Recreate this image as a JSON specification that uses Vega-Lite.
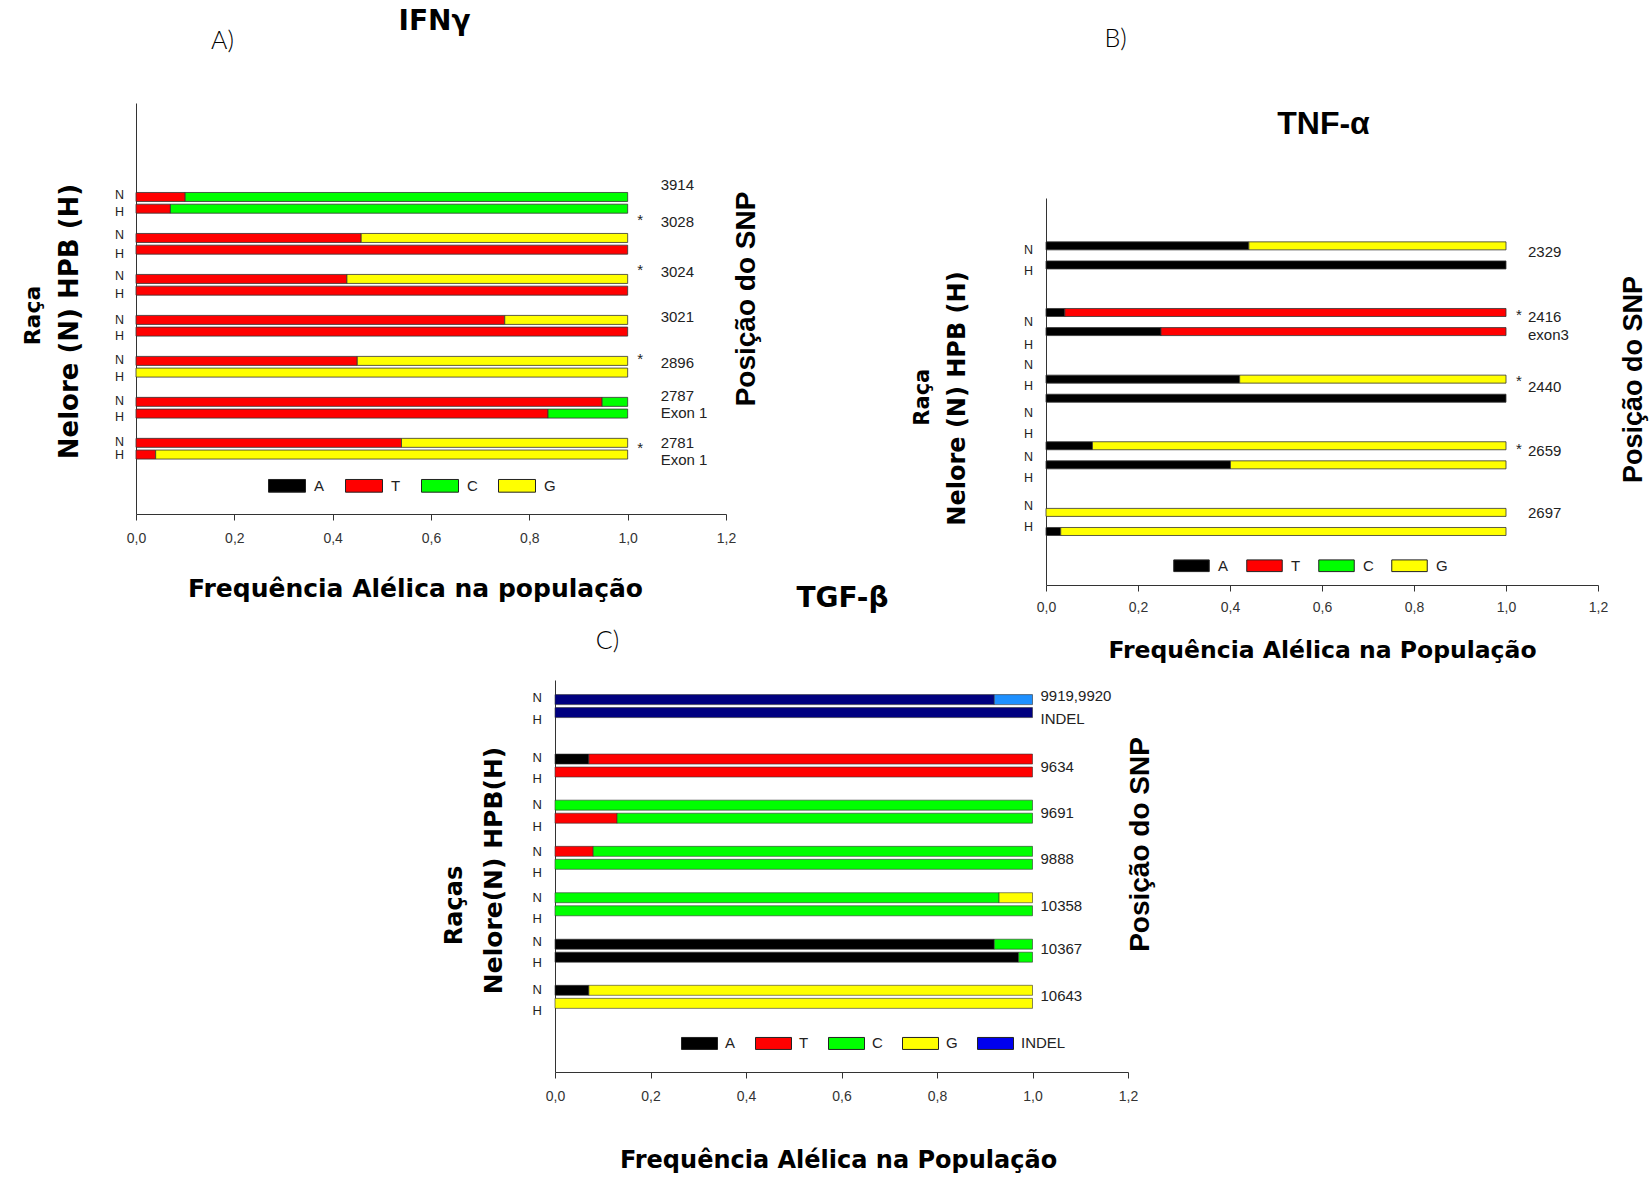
{
  "$schema": "https://vega.github.io/schema/vega-lite/v6.json",
  "background": "white",
  "padding": {"left": 21, "top": 7, "right": 5, "bottom": 5},
  "bounds": "flush",
  "spacing": 577,
  "resolve": {"scale": {"color": "independent"}, "legend": {"color": "independent"}},
  "config": {
    "view": {"stroke": null},
    "axis": {"domainColor": "#333", "tickColor": "#333", "labelFont": "Liberation Sans", "labelFontSize": 14, "labelColor": "#333", "titleColor": "#000", "grid": false}
  },
  "datasets": {
    "segA": [
      {"snp": "3914", "breed": "N", "row": 7.6, "allele": "T", "k": 1, "f": 0.10},
      {"snp": "3914", "breed": "N", "row": 7.6, "allele": "C", "k": 2, "f": 0.90},
      {"snp": "3914", "breed": "H", "row": 8.6, "allele": "T", "k": 1, "f": 0.07},
      {"snp": "3914", "breed": "H", "row": 8.6, "allele": "C", "k": 2, "f": 0.93},
      {"snp": "3028", "breed": "N", "row": 11.1, "allele": "T", "k": 1, "f": 0.458},
      {"snp": "3028", "breed": "N", "row": 11.1, "allele": "G", "k": 3, "f": 0.542},
      {"snp": "3028", "breed": "H", "row": 12.1, "allele": "T", "k": 1, "f": 1.0},
      {"snp": "3024", "breed": "N", "row": 14.6, "allele": "T", "k": 1, "f": 0.429},
      {"snp": "3024", "breed": "N", "row": 14.6, "allele": "G", "k": 3, "f": 0.571},
      {"snp": "3024", "breed": "H", "row": 15.6, "allele": "T", "k": 1, "f": 1.0},
      {"snp": "3021", "breed": "N", "row": 18.1, "allele": "T", "k": 1, "f": 0.75},
      {"snp": "3021", "breed": "N", "row": 18.1, "allele": "G", "k": 3, "f": 0.25},
      {"snp": "3021", "breed": "H", "row": 19.1, "allele": "T", "k": 1, "f": 1.0},
      {"snp": "2896", "breed": "N", "row": 21.6, "allele": "T", "k": 1, "f": 0.45},
      {"snp": "2896", "breed": "N", "row": 21.6, "allele": "G", "k": 3, "f": 0.55},
      {"snp": "2896", "breed": "H", "row": 22.6, "allele": "G", "k": 3, "f": 1.0},
      {"snp": "2787", "breed": "N", "row": 25.1, "allele": "T", "k": 1, "f": 0.948},
      {"snp": "2787", "breed": "N", "row": 25.1, "allele": "C", "k": 2, "f": 0.052},
      {"snp": "2787", "breed": "H", "row": 26.1, "allele": "T", "k": 1, "f": 0.838},
      {"snp": "2787", "breed": "H", "row": 26.1, "allele": "C", "k": 2, "f": 0.162},
      {"snp": "2781", "breed": "N", "row": 28.6, "allele": "T", "k": 1, "f": 0.54},
      {"snp": "2781", "breed": "N", "row": 28.6, "allele": "G", "k": 3, "f": 0.46},
      {"snp": "2781", "breed": "H", "row": 29.6, "allele": "T", "k": 1, "f": 0.04},
      {"snp": "2781", "breed": "H", "row": 29.6, "allele": "G", "k": 3, "f": 0.96}
    ],
    "nhA": [
      {"lab": "N", "row": 7.39}, {"lab": "H", "row": 8.92},
      {"lab": "N", "row": 10.83}, {"lab": "H", "row": 12.44},
      {"lab": "N", "row": 14.31}, {"lab": "H", "row": 15.92},
      {"lab": "N", "row": 18.08}, {"lab": "H", "row": 19.47},
      {"lab": "N", "row": 21.56}, {"lab": "H", "row": 22.94},
      {"lab": "N", "row": 25.03}, {"lab": "H", "row": 26.42},
      {"lab": "N", "row": 28.5}, {"lab": "H", "row": 29.64}
    ],
    "snpA": [
      {"t": "3914", "row": 6.6}, {"t": "3028", "row": 9.73}, {"t": "3024", "row": 14.0},
      {"t": "3021", "row": 17.89}, {"t": "2896", "row": 21.75}, {"t": "2787", "row": 24.56},
      {"t": "Exon 1", "row": 26.08}, {"t": "2781", "row": 28.64}, {"t": "Exon 1", "row": 30.03}
    ],
    "starA": [{"t": "*", "row": 9.56}, {"t": "*", "row": 13.86}, {"t": "*", "row": 21.42}, {"t": "*", "row": 29.0}],
    "segB": [
      {"snp": "2329", "breed": "N", "row": 4.4, "allele": "A", "k": 0, "f": 0.441},
      {"snp": "2329", "breed": "N", "row": 4.4, "allele": "G", "k": 3, "f": 0.559},
      {"snp": "2329", "breed": "H", "row": 6.36, "allele": "A", "k": 0, "f": 1.0},
      {"snp": "2416", "breed": "N", "row": 11.24, "allele": "A", "k": 0, "f": 0.041},
      {"snp": "2416", "breed": "N", "row": 11.24, "allele": "T", "k": 1, "f": 0.959},
      {"snp": "2416", "breed": "H", "row": 13.2, "allele": "A", "k": 0, "f": 0.25},
      {"snp": "2416", "breed": "H", "row": 13.2, "allele": "T", "k": 1, "f": 0.75},
      {"snp": "2440", "breed": "N", "row": 18.08, "allele": "A", "k": 0, "f": 0.421},
      {"snp": "2440", "breed": "N", "row": 18.08, "allele": "G", "k": 3, "f": 0.579},
      {"snp": "2440", "breed": "H", "row": 20.04, "allele": "A", "k": 0, "f": 1.0},
      {"snp": "2659", "breed": "N", "row": 24.92, "allele": "A", "k": 0, "f": 0.101},
      {"snp": "2659", "breed": "N", "row": 24.92, "allele": "G", "k": 3, "f": 0.899},
      {"snp": "2659", "breed": "H", "row": 26.88, "allele": "A", "k": 0, "f": 0.401},
      {"snp": "2659", "breed": "H", "row": 26.88, "allele": "G", "k": 3, "f": 0.599},
      {"snp": "2697", "breed": "N", "row": 31.76, "allele": "G", "k": 3, "f": 1.0},
      {"snp": "2697", "breed": "H", "row": 33.72, "allele": "A", "k": 0, "f": 0.032},
      {"snp": "2697", "breed": "H", "row": 33.72, "allele": "G", "k": 3, "f": 0.968}
    ],
    "nhB": [
      {"lab": "N", "row": 4.8}, {"lab": "H", "row": 7.03},
      {"lab": "N", "row": 12.2}, {"lab": "H", "row": 14.53},
      {"lab": "N", "row": 16.63}, {"lab": "H", "row": 18.77},
      {"lab": "N", "row": 21.53}, {"lab": "H", "row": 23.7},
      {"lab": "N", "row": 26.03}, {"lab": "H", "row": 28.27},
      {"lab": "N", "row": 31.1}, {"lab": "H", "row": 33.27}
    ],
    "snpB": [
      {"t": "2329", "row": 5.0}, {"t": "2416", "row": 11.7}, {"t": "exon3", "row": 13.6},
      {"t": "2440", "row": 18.87}, {"t": "2659", "row": 25.5}, {"t": "2697", "row": 31.87}
    ],
    "starB": [{"t": "*", "row": 11.5}, {"t": "*", "row": 18.3}, {"t": "*", "row": 25.3}],
    "segC": [
      {"snp": "9919,9920", "breed": "N", "row": 1.5, "allele": "del", "k": 0, "f": 0.92},
      {"snp": "9919,9920", "breed": "N", "row": 1.5, "allele": "ins", "k": 1, "f": 0.08},
      {"snp": "9919,9920", "breed": "H", "row": 2.83, "allele": "del", "k": 0, "f": 1.0},
      {"snp": "9634", "breed": "N", "row": 7.6, "allele": "A", "k": 0, "f": 0.071},
      {"snp": "9634", "breed": "N", "row": 7.6, "allele": "T", "k": 1, "f": 0.929},
      {"snp": "9634", "breed": "H", "row": 8.93, "allele": "T", "k": 1, "f": 1.0},
      {"snp": "9691", "breed": "N", "row": 12.33, "allele": "C", "k": 2, "f": 1.0},
      {"snp": "9691", "breed": "H", "row": 13.67, "allele": "T", "k": 1, "f": 0.13},
      {"snp": "9691", "breed": "H", "row": 13.67, "allele": "C", "k": 2, "f": 0.87},
      {"snp": "9888", "breed": "N", "row": 17.07, "allele": "T", "k": 1, "f": 0.08},
      {"snp": "9888", "breed": "N", "row": 17.07, "allele": "C", "k": 2, "f": 0.92},
      {"snp": "9888", "breed": "H", "row": 18.4, "allele": "C", "k": 2, "f": 1.0},
      {"snp": "10358", "breed": "N", "row": 21.83, "allele": "C", "k": 2, "f": 0.93},
      {"snp": "10358", "breed": "N", "row": 21.83, "allele": "G", "k": 3, "f": 0.07},
      {"snp": "10358", "breed": "H", "row": 23.17, "allele": "C", "k": 2, "f": 1.0},
      {"snp": "10367", "breed": "N", "row": 26.6, "allele": "A", "k": 0, "f": 0.92},
      {"snp": "10367", "breed": "N", "row": 26.6, "allele": "C", "k": 2, "f": 0.08},
      {"snp": "10367", "breed": "H", "row": 27.93, "allele": "A", "k": 0, "f": 0.971},
      {"snp": "10367", "breed": "H", "row": 27.93, "allele": "C", "k": 2, "f": 0.029},
      {"snp": "10643", "breed": "N", "row": 31.33, "allele": "A", "k": 0, "f": 0.071},
      {"snp": "10643", "breed": "N", "row": 31.33, "allele": "G", "k": 3, "f": 0.929},
      {"snp": "10643", "breed": "H", "row": 32.67, "allele": "G", "k": 3, "f": 1.0}
    ],
    "nhC": [
      {"lab": "N", "row": 1.33}, {"lab": "H", "row": 3.6},
      {"lab": "N", "row": 7.5}, {"lab": "H", "row": 9.67},
      {"lab": "N", "row": 12.33}, {"lab": "H", "row": 14.6},
      {"lab": "N", "row": 17.1}, {"lab": "H", "row": 19.33},
      {"lab": "N", "row": 21.83}, {"lab": "H", "row": 24.0},
      {"lab": "N", "row": 26.33}, {"lab": "H", "row": 28.5},
      {"lab": "N", "row": 31.27}, {"lab": "H", "row": 33.5}
    ],
    "snpC": [
      {"t": "9919,9920", "row": 1.1}, {"t": "INDEL", "row": 3.5}, {"t": "9634", "row": 8.4},
      {"t": "9691", "row": 13.17}, {"t": "9888", "row": 17.9}, {"t": "10358", "row": 22.67},
      {"t": "10367", "row": 27.1}, {"t": "10643", "row": 31.93}
    ]
  },
  "vconcat": [
    {
      "bounds": "flush",
      "spacing": 320,
      "resolve": {"scale": {"color": "independent"}, "legend": {"color": "independent"}},
      "hconcat": [
        {
          "width": 590,
          "height": 411,
          "resolve": {"axis": {"x": "independent", "y": "independent"}},
          "layer": [
            {
              "data": {"name": "segA"},
              "mark": {"type": "bar", "orient": "horizontal", "size": 9, "stroke": "#333", "strokeWidth": 0.8},
              "encoding": {
                "y": {"field": "row", "type": "quantitative", "scale": {"domain": [0, 34.25], "reverse": true, "nice": false, "zero": false},
                  "axis": {"orient": "left", "title": "Nelore (N) HPB (H)", "labels": false, "ticks": false, "domain": true, "titleX": -66.7, "titleY": 218, "titleAngle": 270, "titleAlign": "center", "titleBaseline": "middle", "titleFont": "DejaVu Sans", "titleFontWeight": "bold", "titleFontSize": 26}},
                "x": {"field": "f", "type": "quantitative", "stack": "zero", "scale": {"domain": [0, 1.2], "nice": false, "zero": false},
                  "axis": {"orient": "bottom", "values": [0, 0.2, 0.4, 0.6, 0.8, 1, 1.2], "labelExpr": "replace(format(datum.value, '.1f'), '.', ',')", "labelFlush": false, "labelOverlap": false, "tickSize": 6, "labelPadding": 11, "title": "Frequência Alélica na população", "titleX": 279, "titleY": 74, "titleAlign": "center", "titleBaseline": "middle", "titleFont": "DejaVu Sans", "titleFontSize": 25, "titleFontWeight": "bold"}},
                "color": {"field": "allele", "type": "nominal",
                  "scale": {"domain": ["A", "T", "C", "G"], "range": ["#000000", "#ff0000", "#00ff00", "#ffff00"]},
                  "legend": {"orient": "none", "legendX": 132, "legendY": 363.5, "direction": "horizontal", "title": null, "values": ["A", "T", "C", "G"], "symbolType": "M-1,-0.343H1V0.343H-1Z", "symbolSize": 1369, "symbolStrokeColor": "#222", "symbolStrokeWidth": 1, "labelFont": "Liberation Sans", "labelFontSize": 15, "labelColor": "#222", "labelOffset": 8, "columnPadding": 18, "padding": 0}},
                "order": {"field": "k", "type": "quantitative"}
              }
            },
            {
              "data": {"name": "nhA"},
              "mark": {"type": "text", "align": "right", "baseline": "middle", "dx": -12, "font": "Liberation Sans", "fontSize": 12.5, "color": "#222"},
              "encoding": {
                "y": {"field": "row", "type": "quantitative", "scale": {"domain": [0, 34.25], "reverse": true, "nice": false, "zero": false},
                  "axis": {"orient": "left", "title": "Raça", "labels": false, "ticks": false, "domain": false, "titleX": -103.3, "titleY": 212, "titleAngle": 270, "titleAlign": "center", "titleBaseline": "middle", "titleFont": "DejaVu Sans", "titleFontWeight": "bold", "titleFontSize": 22}},
                "x": {"datum": 0, "type": "quantitative", "scale": {"domain": [0, 1.2], "nice": false, "zero": false},
                  "axis": {"orient": "top", "title": "A)", "labels": false, "ticks": false, "domain": false, "titleX": 86, "titleY": -63, "titleAlign": "center", "titleBaseline": "middle", "titleFont": "Lato", "titleFontWeight": 300, "titleFontSize": 25}},
                "text": {"field": "lab", "type": "nominal"}
              }
            },
            {
              "data": {"name": "snpA"},
              "mark": {"type": "text", "align": "left", "baseline": "middle", "dx": 33, "font": "Liberation Sans", "fontSize": 15, "color": "#222"},
              "encoding": {
                "y": {"field": "row", "type": "quantitative", "scale": {"domain": [0, 34.25], "reverse": true, "nice": false, "zero": false},
                  "axis": {"orient": "right", "title": "Posição do SNP", "labels": false, "ticks": false, "domain": false, "titleX": 20.5, "titleY": 195.5, "titleAngle": 270, "titleAlign": "center", "titleBaseline": "middle", "titleFont": "Liberation Sans", "titleFontWeight": "bold", "titleFontSize": 28}},
                "x": {"datum": 1, "type": "quantitative", "scale": {"domain": [0, 1.2], "nice": false, "zero": false},
                  "axis": {"orient": "top", "title": "IFNγ", "labels": false, "ticks": false, "domain": false, "titleX": 298, "titleY": -82, "titleAlign": "center", "titleBaseline": "middle", "titleFont": "DejaVu Sans", "titleFontWeight": "bold", "titleFontSize": 28}},
                "text": {"field": "t", "type": "nominal"}
              }
            },
            {
              "data": {"name": "starA"},
              "mark": {"type": "text", "align": "center", "baseline": "middle", "dx": 12.5, "font": "Liberation Sans", "fontSize": 15, "color": "#222"},
              "encoding": {
                "y": {"field": "row", "type": "quantitative", "scale": {"domain": [0, 34.25], "reverse": true, "nice": false, "zero": false}, "axis": null},
                "x": {"datum": 1, "type": "quantitative", "scale": {"domain": [0, 1.2], "nice": false, "zero": false}, "axis": null},
                "text": {"field": "t", "type": "nominal"}
              }
            }
          ]
        },
        {
          "bounds": "flush",
          "spacing": 0,
          "resolve": {"scale": {"color": "independent"}, "legend": {"color": "independent"}},
          "vconcat": [
            {"data": {"values": []}, "mark": "point", "width": 1, "height": 95},
            {
              "width": 552,
              "height": 387,
              "resolve": {"axis": {"x": "independent", "y": "independent"}},
              "layer": [
                {
                  "data": {"name": "segB"},
                  "mark": {"type": "bar", "orient": "horizontal", "size": 8, "stroke": "#333", "strokeWidth": 0.8},
                  "encoding": {
                    "y": {"field": "row", "type": "quantitative", "scale": {"domain": [0, 38.7], "reverse": true, "nice": false, "zero": false},
                      "axis": {"orient": "left", "title": "Nelore (N) HPB (H)", "labels": false, "ticks": false, "domain": true, "titleX": -88.3, "titleY": 200, "titleAngle": 270, "titleAlign": "center", "titleBaseline": "middle", "titleFont": "DejaVu Sans", "titleFontWeight": "bold", "titleFontSize": 24}},
                    "x": {"field": "f", "type": "quantitative", "stack": "zero", "scale": {"domain": [0, 1.2], "nice": false, "zero": false},
                      "axis": {"orient": "bottom", "values": [0, 0.2, 0.4, 0.6, 0.8, 1, 1.2], "labelExpr": "replace(format(datum.value, '.1f'), '.', ',')", "labelFlush": false, "labelOverlap": false, "tickSize": 6, "labelPadding": 9, "title": "Frequência Alélica na População", "titleY": 65, "titleBaseline": "middle", "titleFont": "DejaVu Sans", "titleFontSize": 23.5, "titleFontWeight": "bold"}},
                    "color": {"field": "allele", "type": "nominal",
                      "scale": {"domain": ["A", "T", "C", "G"], "range": ["#000000", "#ff0000", "#00ff00", "#ffff00"]},
                      "legend": {"orient": "none", "legendX": 127, "legendY": 349, "direction": "horizontal", "title": null, "values": ["A", "T", "C", "G"], "symbolType": "M-1,-0.33H1V0.33H-1Z", "symbolSize": 1260, "symbolStrokeColor": "#222", "symbolStrokeWidth": 1, "labelFont": "Liberation Sans", "labelFontSize": 15, "labelColor": "#222", "labelOffset": 8, "columnPadding": 15, "padding": 0}},
                    "order": {"field": "k", "type": "quantitative"}
                  }
                },
                {
                  "data": {"name": "nhB"},
                  "mark": {"type": "text", "align": "right", "baseline": "middle", "dx": -13, "font": "Liberation Sans", "fontSize": 12.5, "color": "#222"},
                  "encoding": {
                    "y": {"field": "row", "type": "quantitative", "scale": {"domain": [0, 38.7], "reverse": true, "nice": false, "zero": false},
                      "axis": {"orient": "left", "title": "Raça", "labels": false, "ticks": false, "domain": false, "titleX": -123.3, "titleY": 198.7, "titleAngle": 270, "titleAlign": "center", "titleBaseline": "middle", "titleFont": "DejaVu Sans", "titleFontWeight": "bold", "titleFontSize": 21}},
                    "x": {"datum": 0, "type": "quantitative", "scale": {"domain": [0, 1.2], "nice": false, "zero": false},
                      "axis": {"orient": "top", "title": "B)", "labels": false, "ticks": false, "domain": false, "titleX": 69, "titleY": -160, "titleAlign": "center", "titleBaseline": "middle", "titleFont": "Lato", "titleFontWeight": 300, "titleFontSize": 25}},
                    "text": {"field": "lab", "type": "nominal"}
                  }
                },
                {
                  "data": {"name": "snpB"},
                  "mark": {"type": "text", "align": "left", "baseline": "middle", "dx": 22, "font": "Liberation Sans", "fontSize": 15, "color": "#222"},
                  "encoding": {
                    "y": {"field": "row", "type": "quantitative", "scale": {"domain": [0, 38.7], "reverse": true, "nice": false, "zero": false},
                      "axis": {"orient": "right", "title": "Posição do SNP", "labels": false, "ticks": false, "domain": false, "titleX": 35, "titleY": 181, "titleAngle": 270, "titleAlign": "center", "titleBaseline": "middle", "titleFont": "Liberation Sans", "titleFontWeight": "bold", "titleFontSize": 27}},
                    "x": {"datum": 1, "type": "quantitative", "scale": {"domain": [0, 1.2], "nice": false, "zero": false},
                      "axis": {"orient": "top", "title": "TNF-α", "labels": false, "ticks": false, "domain": false, "titleX": 277, "titleY": -75, "titleAlign": "center", "titleBaseline": "middle", "titleFont": "Liberation Sans", "titleFontWeight": "bold", "titleFontSize": 32}},
                    "text": {"field": "t", "type": "nominal"}
                  }
                },
                {
                  "data": {"name": "starB"},
                  "mark": {"type": "text", "align": "center", "baseline": "middle", "dx": 13, "font": "Liberation Sans", "fontSize": 15, "color": "#222"},
                  "encoding": {
                    "y": {"field": "row", "type": "quantitative", "scale": {"domain": [0, 38.7], "reverse": true, "nice": false, "zero": false}, "axis": null},
                    "x": {"datum": 1, "type": "quantitative", "scale": {"domain": [0, 1.2], "nice": false, "zero": false}, "axis": null},
                    "text": {"field": "t", "type": "nominal"}
                  }
                }
              ]
            }
          ]
        }
      ]
    },
    {
      "bounds": "flush",
      "spacing": 0,
      "resolve": {"scale": {"color": "independent"}, "legend": {"color": "independent"}},
      "hconcat": [
        {"data": {"values": []}, "mark": "point", "width": 419, "height": 1},
        {
          "width": 573,
          "height": 392,
          "resolve": {"axis": {"x": "independent", "y": "independent"}},
          "layer": [
            {
              "data": {"name": "segC"},
              "mark": {"type": "bar", "orient": "horizontal", "size": 10, "stroke": "#333", "strokeWidth": 0.6},
              "encoding": {
                "y": {"field": "row", "type": "quantitative", "scale": {"domain": [0, 39.2], "reverse": true, "nice": false, "zero": false},
                  "axis": {"orient": "left", "title": "Nelore(N)  HPB(H)", "labels": false, "ticks": false, "domain": true, "titleX": -62, "titleY": 190, "titleAngle": 270, "titleAlign": "center", "titleBaseline": "middle", "titleFont": "DejaVu Sans", "titleFontWeight": "bold", "titleFontSize": 25}},
                "x": {"field": "f", "type": "quantitative", "stack": "zero", "scale": {"domain": [0, 1.2], "nice": false, "zero": false},
                  "axis": {"orient": "bottom", "values": [0, 0.2, 0.4, 0.6, 0.8, 1, 1.2], "labelExpr": "replace(format(datum.value, '.1f'), '.', ',')", "labelFlush": false, "labelOverlap": false, "tickSize": 6, "labelPadding": 11, "title": "Frequência Alélica na População", "titleX": 283, "titleY": 88, "titleAlign": "center", "titleBaseline": "middle", "titleFont": "DejaVu Sans", "titleFontSize": 24, "titleFontWeight": "bold"}},
                "color": {"field": "allele", "type": "nominal",
                  "scale": {"domain": ["A", "T", "C", "G", "INDEL", "del", "ins"], "range": ["#000000", "#ff0000", "#00ff00", "#ffff00", "#0000ee", "#000080", "#1e90ff"]},
                  "legend": {"orient": "none", "legendX": 126, "legendY": 344.7, "direction": "horizontal", "title": null, "values": ["A", "T", "C", "G", "INDEL"], "symbolType": "M-1,-0.333H1V0.333H-1Z", "symbolSize": 1296, "symbolStrokeColor": "#222", "symbolStrokeWidth": 1, "labelFont": "Liberation Sans", "labelFontSize": 15, "labelColor": "#222", "labelOffset": 7, "columnPadding": 17, "padding": 0}},
                "order": {"field": "k", "type": "quantitative"}
              }
            },
            {
              "data": {"name": "nhC"},
              "mark": {"type": "text", "align": "right", "baseline": "middle", "dx": -13, "font": "Liberation Sans", "fontSize": 13, "color": "#222"},
              "encoding": {
                "y": {"field": "row", "type": "quantitative", "scale": {"domain": [0, 39.2], "reverse": true, "nice": false, "zero": false},
                  "axis": {"orient": "left", "title": "Raças", "labels": false, "ticks": false, "domain": false, "titleX": -101, "titleY": 225, "titleAngle": 270, "titleAlign": "center", "titleBaseline": "middle", "titleFont": "DejaVu Sans", "titleFontWeight": "bold", "titleFontSize": 24}},
                "x": {"datum": 0, "type": "quantitative", "scale": {"domain": [0, 1.2], "nice": false, "zero": false},
                  "axis": {"orient": "top", "title": "C)", "labels": false, "ticks": false, "domain": false, "titleX": 52, "titleY": -40, "titleAlign": "center", "titleBaseline": "middle", "titleFont": "Lato", "titleFontWeight": 300, "titleFontSize": 25}},
                "text": {"field": "lab", "type": "nominal"}
              }
            },
            {
              "data": {"name": "snpC"},
              "mark": {"type": "text", "align": "left", "baseline": "middle", "dx": 8, "font": "Liberation Sans", "fontSize": 15, "color": "#222"},
              "encoding": {
                "y": {"field": "row", "type": "quantitative", "scale": {"domain": [0, 39.2], "reverse": true, "nice": false, "zero": false},
                  "axis": {"orient": "right", "title": "Posição do SNP", "labels": false, "ticks": false, "domain": false, "titleX": 12, "titleY": 164, "titleAngle": 270, "titleAlign": "center", "titleBaseline": "middle", "titleFont": "Liberation Sans", "titleFontWeight": "bold", "titleFontSize": 28}},
                "x": {"datum": 1, "type": "quantitative", "scale": {"domain": [0, 1.2], "nice": false, "zero": false},
                  "axis": {"orient": "top", "title": "TGF-β", "labels": false, "ticks": false, "domain": false, "titleX": 287, "titleY": -82, "titleAlign": "center", "titleBaseline": "middle", "titleFont": "DejaVu Sans", "titleFontWeight": "bold", "titleFontSize": 28}},
                "text": {"field": "t", "type": "nominal"}
              }
            }
          ]
        }
      ]
    }
  ]
}
